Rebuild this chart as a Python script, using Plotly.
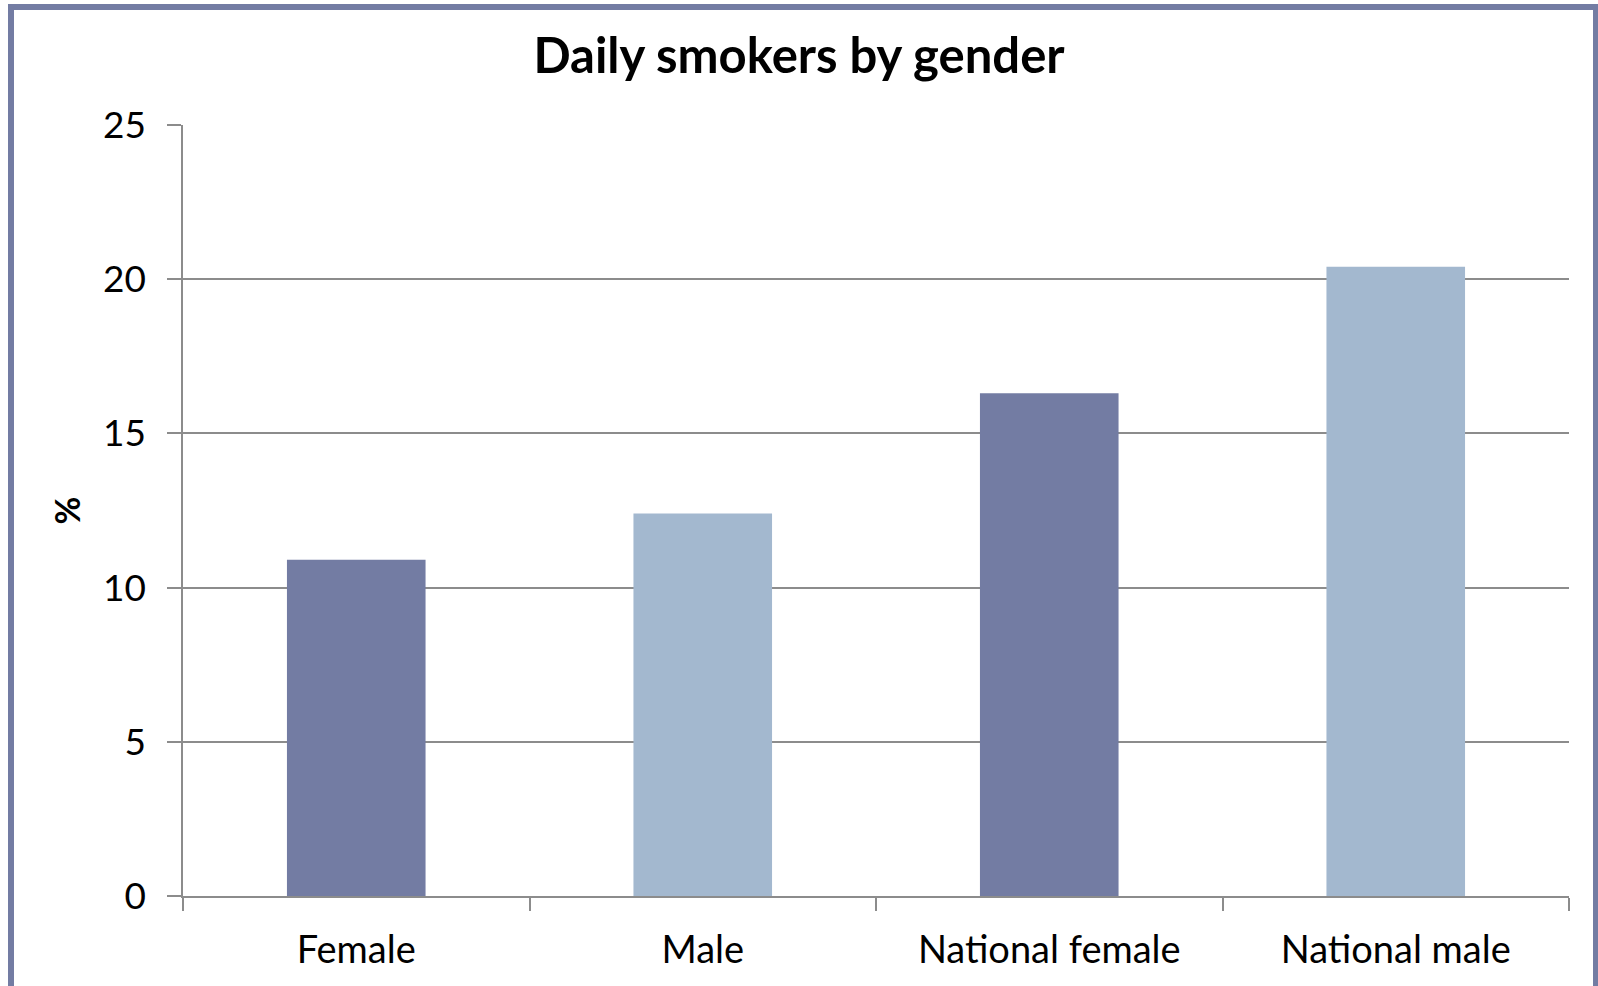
import plotly.graph_objects as go

categories = ["Female", "Male", "National female", "National male"]
values = [10.9, 12.4, 16.3, 20.4]
bar_colors = ["#737ca3", "#a3b8cf", "#737ca3", "#a3b8cf"]
y_ticks = [0, 5, 10, 15, 20, 25]

W, H = 1598, 986
ML, MR, MT, MB = 183, 29, 125, 90
pw, ph = W - ML - MR, H - MT - MB

def px_x(x):
    return (x - ML) / pw

def px_y(y):
    return (H - MB - y) / ph

fig = go.Figure(
    go.Bar(
        x=categories,
        y=values,
        marker=dict(color=bar_colors, line=dict(width=0)),
        width=0.4,
        hoverinfo="x+y",
    )
)

grid_col = "#8c8c8c"
font_family = "Lato, 'Open Sans', sans-serif"

fig.update_layout(
    width=W,
    height=H,
    margin=dict(l=ML, r=MR, t=MT, b=MB),
    paper_bgcolor="white",
    plot_bgcolor="white",
    showlegend=False,
    font=dict(family=font_family, color="black"),
    title=dict(
        text="<b>Daily smokers by gender</b>",
        x=0.5,
        xanchor="center",
        y=1 - 56 / H,
        yanchor="middle",
        font=dict(size=49, family=font_family, color="black"),
    ),
    xaxis=dict(
        showline=True,
        linecolor=grid_col,
        linewidth=1.5,
        ticks="outside",
        tickson="boundaries",
        ticklen=13,
        tickcolor=grid_col,
        tickwidth=1.5,
        tickfont=dict(size=38),
        ticklabelstandoff=20,
        showgrid=False,
    ),
    yaxis=dict(
        range=[0, 25],
        tickvals=y_ticks,
        showline=True,
        linecolor=grid_col,
        linewidth=1.5,
        ticks="outside",
        ticklen=14,
        tickcolor=grid_col,
        tickwidth=1.5,
        showgrid=True,
        gridcolor=grid_col,
        gridwidth=1.5,
        zeroline=False,
        tickfont=dict(size=37),
        ticklabelstandoff=14,
        title=dict(text="<b>%</b>", font=dict(size=34), standoff=12),
    ),
    shapes=[
        dict(
            type="rect",
            xref="paper",
            yref="paper",
            x0=px_x(11),
            x1=px_x(1596),
            y0=px_y(7),
            y1=px_y(1000),
            line=dict(color="#737ca3", width=6),
            fillcolor="rgba(0,0,0,0)",
            layer="above",
        )
    ],
)

fig.write_html("out.html")
